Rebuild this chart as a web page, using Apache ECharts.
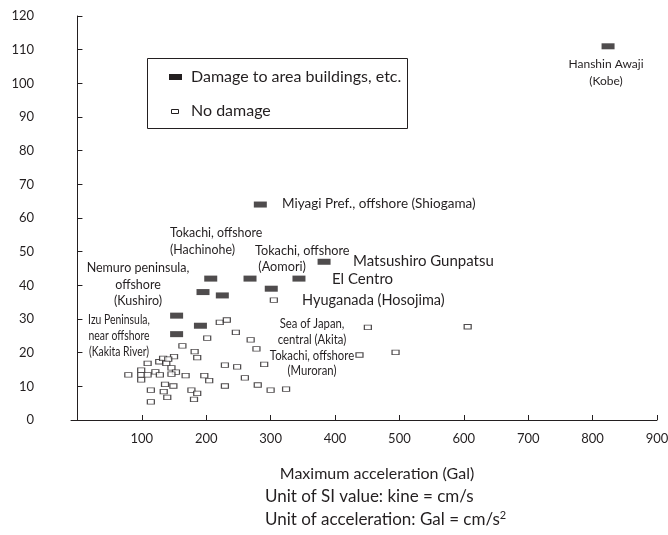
<!DOCTYPE html>
<html>
<head>
<meta charset="utf-8">
<script src="https://cdn.jsdelivr.net/npm/echarts@6/dist/echarts.min.js"></script>
<style>
  html, body { margin: 0; padding: 0; background: #ffffff; }
  #chart { width: 668px; height: 535px; }
</style>
</head>
<body>
<div id="chart"></div>
<script>
// Earthquake records: [maximum acceleration (Gal), SI value (kine)]
const damagedRecords = [
  [824, 111], [284, 64], [383, 47], [344, 42], [301, 39], [268, 42],
  [207, 42], [195, 38], [225, 37], [154, 31], [191, 28], [154, 25.5]
];
const undamagedRecords = [
  [109, 16.8], [127, 17.3], [133, 18.3], [79, 13.4], [99, 14.8], [99, 13.4],
  [99, 11.9], [109, 13.4], [121, 14.3], [128, 13.4], [114, 8.9], [114, 5.4],
  [136, 10.6], [134, 8.4], [139.5, 6.7], [201.5, 24.3], [163, 22], [182, 20.3],
  [186, 18.5], [150, 18.8], [141, 18.1], [138, 16.8], [146, 15.5], [153, 14.2],
  [146, 13.6], [168, 13.2], [197, 13.2], [204.6, 11.7], [229, 16.3], [248, 15.8],
  [260, 12.5], [229, 10.1], [149, 10.1], [177, 8.9], [186, 7.9], [181, 6.1],
  [269, 23.8], [278, 21.1], [290, 16.5], [280, 10.4], [300, 8.9], [324, 9.2],
  [305, 35.6], [221, 29], [232, 29.7], [246, 26], [451, 27.5], [606, 27.7],
  [438, 19.3], [494, 20.1]
];
const xTickValues = [100, 200, 300, 400, 500, 600, 700, 800, 900];
const seriesNames = ['Damage to area buildings, etc.', 'No damage'];

const INK = '#231f20';
const FONT = 'Lato, "Liberation Sans", sans-serif';

// Event names written beside their records (y = centre of the first line)
const annotations = [
  { x: 606, y: 64, lh: 17, size: 12, align: 'center', lines: ['Hanshin Awaji', '(Kobe)'] },
  { x: 282, y: 204, lh: 17, size: 13.5, align: 'left', lines: ['Miyagi Pref., offshore (Shiogama)'] },
  { x: 170, y: 233, lh: 17, size: 12.4, align: 'left', lines: ['Tokachi, offshore', '(Hachinohe)'] },
  { x: 255, y: 251, lh: 16, size: 12.7, align: 'left', lines: ['Tokachi, offshore', ' (Aomori)'] },
  { x: 353, y: 261, lh: 17, size: 15, align: 'left', lines: ['Matsushiro Gunpatsu'] },
  { x: 332, y: 279, lh: 17, size: 15, align: 'left', lines: ['El Centro'] },
  { x: 302, y: 300, lh: 17, size: 14.5, align: 'left', lines: ['Hyuganada (Hosojima)'] },
  { x: 138, y: 268, lh: 16.5, size: 12.5, align: 'center', lines: ['Nemuro peninsula,', 'offshore', '(Kushiro)'] },
  { x: 119, y: 320, lh: 16, size: 13, sx: 0.8, align: 'center', lines: ['Izu Peninsula,', 'near offshore', '(Kakita River)'] },
  { x: 312, y: 324, lh: 15.7, size: 13, sx: 0.87, align: 'center', lines: ['Sea of Japan,', 'central (Akita)', 'Tokachi, offshore', '(Muroran)'] }
];

const graphics = [];
annotations.forEach(a => {
  graphics.push({
    type: 'text',
    x: a.x,
    y: a.y - a.lh / 2,
    scaleX: a.sx || 1,
    style: {
      text: a.lines.join('\n'),
      align: a.align,
      verticalAlign: 'top',
      font: a.size + 'px ' + FONT,
      lineHeight: a.lh,
      fill: INK
    }
  });
});

// Legend panel
graphics.push(
  { type: 'rect', shape: { x: 147.5, y: 58.5, width: 260, height: 70 },
    style: { fill: '#ffffff', stroke: INK, lineWidth: 1 } },
  { type: 'rect', shape: { x: 169, y: 74, width: 13, height: 6 },
    style: { fill: INK } },
  { type: 'text', x: 191, y: 77,
    style: { text: seriesNames[0], font: '16px ' + FONT, fill: INK, verticalAlign: 'middle' } },
  { type: 'rect', shape: { x: 171.5, y: 109.5, width: 7, height: 4 },
    style: { fill: '#ffffff', stroke: INK, lineWidth: 1 } },
  { type: 'text', x: 191, y: 111,
    style: { text: seriesNames[1], font: '16px ' + FONT, fill: INK, verticalAlign: 'middle' } }
);

// Unit notes under the x axis title
graphics.push(
  { type: 'text', x: 265, y: 497,
    style: { text: 'Unit of SI value: kine = cm/s', font: '17px ' + FONT, fill: INK, verticalAlign: 'middle' } },
  { type: 'text', x: 265, y: 520,
    style: {
      text: '{a|Unit of acceleration: Gal = cm/s}{s|2}',
      verticalAlign: 'middle',
      rich: {
        a: { font: '17px ' + FONT, fill: INK },
        s: { font: '11px ' + FONT, fill: INK, padding: [0, 0, 9, 0] }
      }
    } }
);

const chart = echarts.init(document.getElementById('chart'), null, { renderer: 'canvas' });
chart.setOption({
  animation: false,
  backgroundColor: '#ffffff',
  textStyle: { fontFamily: FONT, color: INK },
  grid: { left: 71, right: 11, top: 16, bottom: 115, containLabel: false, outerBoundsMode: 'none' },
  xAxis: {
    type: 'value',
    min: -10,
    max: 900,
    name: 'Maximum acceleration (Gal)',
    nameLocation: 'middle',
    nameGap: 46,
    nameTextStyle: { fontSize: 16, color: INK, padding: [0, 0, 0, 26] },
    axisLine: { lineStyle: { color: INK, width: 1 } },
    axisTick: { show: true, inside: true, length: 5, lineStyle: { color: INK }, customValues: xTickValues },
    axisLabel: { customValues: xTickValues, fontSize: 13, color: INK, margin: 12 },
    splitLine: { show: false }
  },
  yAxis: {
    type: 'value',
    min: 0,
    max: 120,
    interval: 10,
    name: 'SI (kine)',
    nameLocation: 'middle',
    nameGap: 54,
    nameRotate: 90,
    nameTextStyle: { fontSize: 13, color: INK },
    axisLine: { show: true, lineStyle: { color: INK, width: 1 } },
    axisTick: { show: true, inside: true, length: 5, lineStyle: { color: INK } },
    axisLabel: { fontSize: 13, color: INK, margin: 37 },
    splitLine: { show: false }
  },
  series: [
    {
      name: seriesNames[1],
      type: 'scatter',
      data: undamagedRecords,
      symbol: 'rect',
      symbolSize: [7, 4.5],
      itemStyle: { color: '#ffffff', borderColor: INK, borderWidth: 1 },
      z: 2
    },
    {
      name: seriesNames[0],
      type: 'scatter',
      data: damagedRecords,
      symbol: 'rect',
      symbolSize: [13, 6],
      itemStyle: { color: INK },
      z: 3
    }
  ],
  graphic: graphics
});
</script>
</body>
</html>
